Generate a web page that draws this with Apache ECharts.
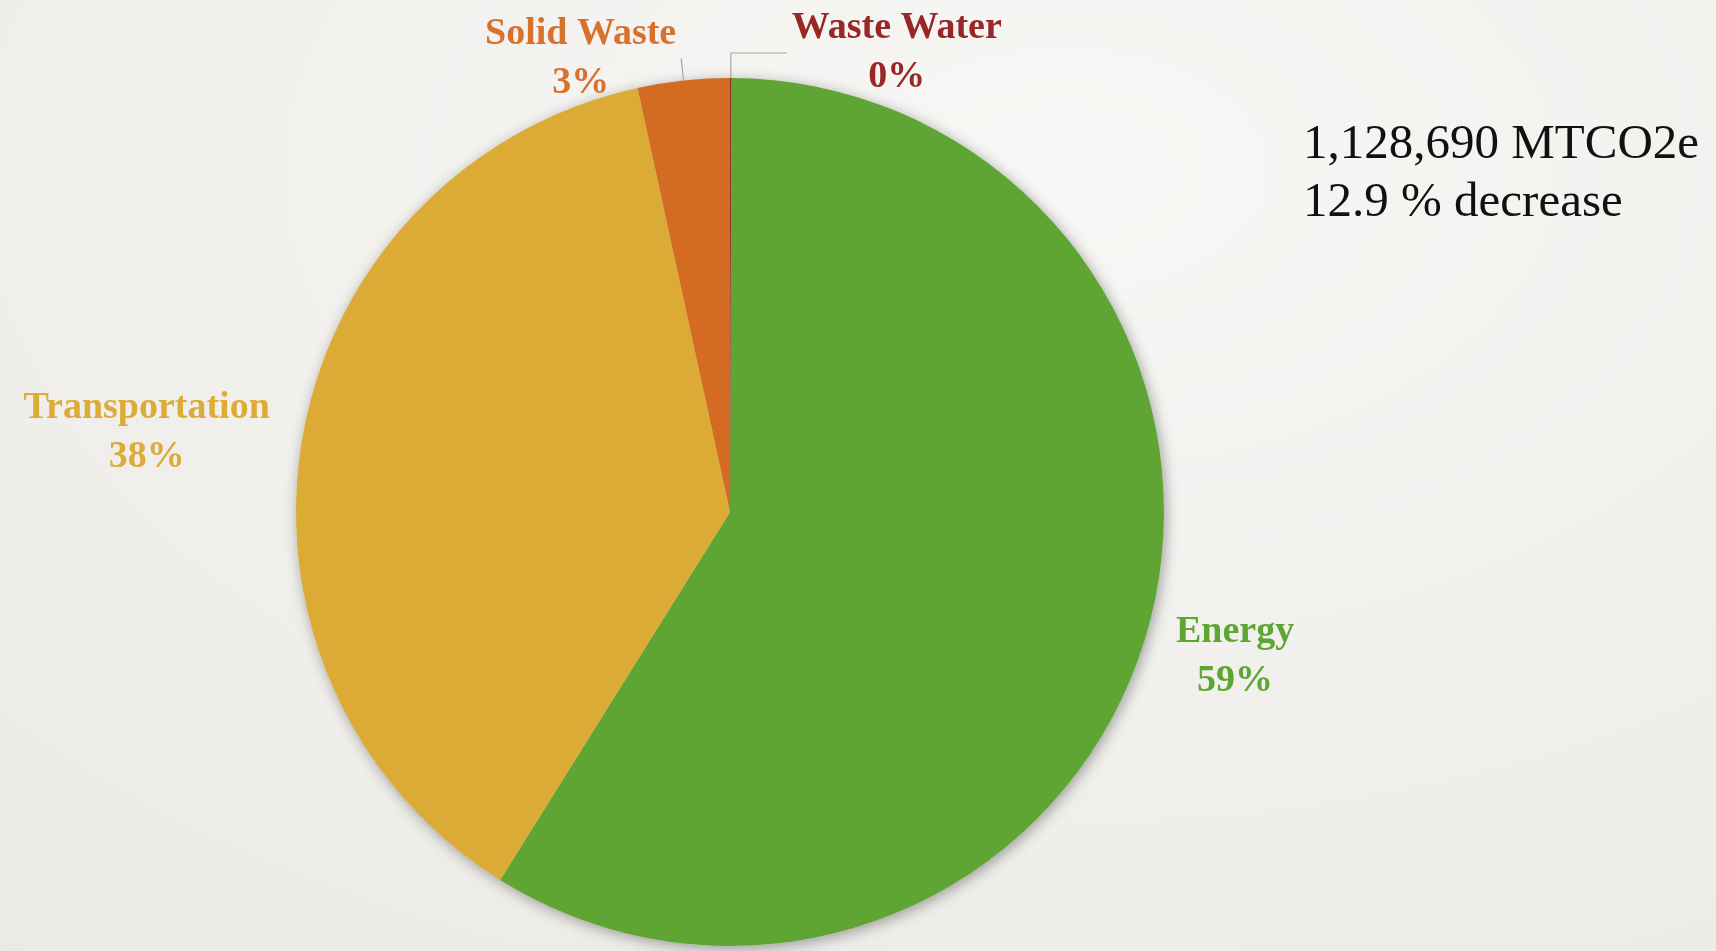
<!DOCTYPE html>
<html>
<head>
<meta charset="utf-8">
<script src="https://cdn.jsdelivr.net/npm/echarts@6/dist/echarts.min.js"></script>
<style>
  html, body { margin: 0; padding: 0; width: 1716px; height: 951px; overflow: hidden; }
  body { background: radial-gradient(ellipse 110% 120% at 62% 18%, #f7f7f5 0%, #f1f0ed 45%, #e9e8e4 100%); }
  #chart { width: 1716px; height: 951px; }
</style>
</head>
<body>
<div id="chart"></div>
<script>
// ---- data ----
const categories = ['Energy', 'Transportation', 'Solid Waste', 'Waste Water'];
const emissions = [664000, 425500, 38600, 590];   // MTCO2e
const totalText = '1,128,690 MTCO2e';
const changeText = '12.9 % decrease';

// ---- styles ----
const sliceColors = ['#5fa533', '#dbab35', '#d36b23', '#9b2323'];
const labelColors = ['#5ea532', '#ddab38', '#d8712b', '#9a2727'];
const lineLen1 = [25, 28, 22, 25];
const lineLen2 = [0, 0, 0, 56];
const showLine = [false, false, true, true];
const labelPad = [[34, 0, 0, 0], 0, 0, 0];

const serif = '"Palatino Linotype", "Book Antiqua", Palatino, "Liberation Serif", serif';
const total = emissions.reduce((a, b) => a + b, 0);

const chart = echarts.init(document.getElementById('chart'), null, { renderer: 'canvas' });

chart.setOption({
  backgroundColor: 'transparent',
  animation: false,
  graphic: [
    { type: 'text', left: 1303, top: 121, style: { text: totalText, font: '49px ' + serif, fill: '#111' } },
    { type: 'text', left: 1303, top: 179, style: { text: changeText, font: '49px ' + serif, fill: '#111' } }
  ],
  series: [
    {
      type: 'pie',
      silent: true,
      center: [730, 512],
      radius: 434,
      label: { show: false },
      labelLine: { show: false },
      itemStyle: { color: '#dddddd', shadowBlur: 14, shadowColor: 'rgba(0,0,0,0.35)', shadowOffsetX: 2, shadowOffsetY: 3 },
      data: [{ name: 'shadow', value: total }],
      z: 1
    },
    {
      type: 'pie',
      center: [730, 512],
      radius: 434,
      startAngle: 89.8,
      clockwise: true,
      avoidLabelOverlap: false,
      percentPrecision: 0,
      z: 2,
      label: {
        position: 'outside',
        formatter: '{t|{b}}\n{t|{d}%}',
        fontFamily: serif,
        fontWeight: 'bold',
        fontSize: 38,
        distanceToLabelLine: 5,
        rich: {
          t: { align: 'center', fontFamily: serif, fontWeight: 'bold', fontSize: 38, lineHeight: 49 }
        }
      },
      labelLine: { lineStyle: { color: '#a5a5a5', width: 1.2 } },
      data: categories.map((name, i) => ({
        name: name,
        value: emissions[i],
        itemStyle: { color: sliceColors[i] },
        label: { color: labelColors[i], padding: labelPad[i] },
        labelLine: { show: showLine[i], length: lineLen1[i], length2: lineLen2[i] }
      }))
    }
  ]
});
</script>
</body>
</html>
